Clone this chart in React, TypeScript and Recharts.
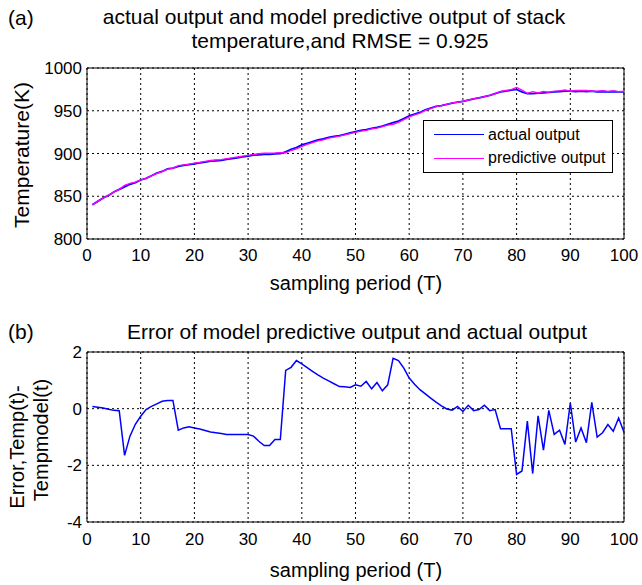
import React from "react";
import {
  CartesianGrid,
  Line,
  LineChart,
  ReferenceArea,
  XAxis,
  YAxis
} from "recharts";

// sampling period 1..100
const actualOutput = [
  840, 844, 848, 851, 855, 858, 861, 864, 866, 869,
  871, 874, 877, 879, 882, 883, 885, 886, 887, 888,
  889, 890, 891, 891.5, 892, 893, 894, 895, 896, 897,
  898, 898.5, 899, 899, 899.5, 900, 902, 905, 907, 910,
  912, 914, 916, 917, 919, 920, 921, 922.5, 924, 925.5,
  927, 928, 929.5, 930.5, 932, 934, 936, 938, 941, 944,
  946, 948, 951, 953, 955, 956, 957.5, 959, 960, 961,
  962.5, 964, 965, 966.5, 968, 970, 972, 973, 974, 975,
  972, 970, 970, 970.5, 971, 971.5, 972, 972.5, 973, 973,
  972.5, 973, 972.5, 973, 972, 972.5, 972, 972.5, 972, 972
];

const predictiveOutput = [
  839.9, 844.0, 848.0, 851.0, 855.1, 858.1, 862.7, 865.0, 866.6, 869.3,
  871.0, 873.9, 876.8, 878.7, 881.7, 882.7, 885.8, 886.7, 887.6, 888.7,
  889.7, 890.8, 891.8, 892.4, 892.9, 893.9, 894.9, 895.9, 896.9, 897.9,
  899.0, 899.7, 900.3, 900.3, 900.6, 901.1, 900.7, 903.5, 905.3, 908.4,
  910.6, 912.7, 914.8, 915.9, 918.0, 919.1, 920.2, 921.7, 923.3, 924.7,
  926.2, 927.0, 928.8, 929.6, 931.4, 933.2, 934.2, 936.3, 939.6, 942.9,
  945.1, 947.3, 950.5, 952.6, 954.8, 955.9, 957.5, 959.1, 959.9, 961.1,
  962.4, 964.1, 965.0, 966.4, 968.1, 970.0, 972.7, 973.7, 974.7, 977.3,
  974.2, 970.4, 972.3, 970.8, 972.5, 971.6, 972.9, 973.3, 974.3, 972.8,
  973.7, 973.7, 973.7, 972.8, 973.0, 973.4, 972.6, 973.3, 972.3, 972.8
];

const errorValues = [
  0.08, 0.05, 0.02, -0.02, -0.06, -0.07, -1.65, -0.97, -0.55, -0.27,
  -0.03, 0.08, 0.17, 0.26, 0.29, 0.29, -0.76, -0.68, -0.64, -0.68,
  -0.72, -0.77, -0.82, -0.85, -0.88, -0.91, -0.91, -0.91, -0.91, -0.91,
  -0.97, -1.15, -1.3, -1.3, -1.09, -1.09, 1.35, 1.46, 1.7, 1.58,
  1.45, 1.32, 1.19, 1.08, 0.98, 0.88, 0.78, 0.77, 0.75, 0.84,
  0.79, 0.96, 0.7, 0.92, 0.63, 0.84, 1.78, 1.7, 1.43, 1.08,
  0.86, 0.67, 0.52, 0.37, 0.23, 0.1, -0.01, -0.05, 0.08, -0.1,
  0.12, -0.07, -0.03, 0.12, -0.07, -0.03, -0.71, -0.71, -0.71, -2.32,
  -2.2, -0.44, -2.29, -0.25, -1.46, -0.06, -0.91, -0.76, -1.26, 0.2,
  -1.18, -0.68, -1.2, 0.22, -1.0, -0.85, -0.56, -0.8, -0.33, -0.83
];

const xTicks = [0, 10, 20, 30, 40, 50, 60, 70, 80, 90, 100];
const tempTicks = [800, 850, 900, 950, 1000];
const errorTicks = [-4, -2, 0, 2];

const FONT = "'Liberation Sans', Arial, Helvetica, sans-serif";
const tickStyle = { fill: "#000", fontSize: 17, fontFamily: FONT };

const topData = actualOutput.map((v, i) => ({
  t: i + 1,
  actual: v,
  predictive: predictiveOutput[i]
}));
const errorData = errorValues.map((v, i) => ({ t: i + 1, err: v }));

const text = (style: React.CSSProperties): React.CSSProperties => ({
  position: "absolute",
  fontFamily: FONT,
  color: "#000",
  whiteSpace: "nowrap",
  lineHeight: 1,
  ...style
});

// small inward tick marks on all four sides, matlab style
function innerTicks(yDomain: number[], yTicks: number[]) {
  const common = {
    mirror: true,
    tick: false as const,
    tickSize: 5,
    axisLine: false,
    tickLine: { stroke: "#000" },
    interval: 0 as const
  };
  return [
    <XAxis key="xb" xAxisId="xb" orientation="bottom" type="number" domain={[0, 100]} ticks={xTicks} {...common} />,
    <XAxis key="xt" xAxisId="xt" orientation="top" type="number" domain={[0, 100]} ticks={xTicks} {...common} />,
    <YAxis key="yl" yAxisId="yl" orientation="left" type="number" domain={yDomain} ticks={yTicks} {...common} />,
    <YAxis key="yr" yAxisId="yr" orientation="right" type="number" domain={yDomain} ticks={yTicks} {...common} />
  ];
}

export default function App() {
  return (
    <div
      style={{
        position: "absolute",
        left: 0,
        top: 0,
        width: 642,
        height: 585,
        background: "#fff",
        overflow: "hidden"
      }}
    >
      {/* (a) */}
      <div style={text({ left: 8, top: 7, fontSize: 21 })}>(a)</div>
      <div style={text({ left: 334, top: 6, fontSize: 21, transform: "translateX(-50%)" })}>
        actual output and model predictive output of stack
      </div>
      <div style={text({ left: 340, top: 30, fontSize: 21, transform: "translateX(-50%)" })}>
        temperature,and RMSE = 0.925
      </div>

      <div style={{ position: "absolute", left: 0, top: 0 }}>
        <LineChart width={642} height={300} data={topData} margin={{ top: 68, right: 18, left: 0, bottom: 0 }}>
          <CartesianGrid stroke="#000" strokeDasharray="2 3" />
          <XAxis
            dataKey="t"
            type="number"
            domain={[0, 100]}
            ticks={xTicks}
            height={61}
            tickLine={false}
            axisLine={false}
            tickSize={0}
            tickMargin={10}
            tick={tickStyle}
            interval={0}
          />
          <YAxis
            type="number"
            domain={[800, 1000]}
            ticks={tempTicks}
            width={87}
            tickLine={false}
            axisLine={false}
            tickSize={0}
            tickMargin={5}
            tick={tickStyle}
            interval={0}
          />
          {innerTicks([800, 1000], tempTicks)}
          <ReferenceArea x1={0} x2={100} y1={800} y2={1000} fill="none" stroke="#000" strokeWidth={1} ifOverflow="visible" />
          <Line dataKey="actual" stroke="#0000ff" strokeWidth={1.8} dot={false} isAnimationActive={false} />
          <Line dataKey="predictive" stroke="#ff00ff" strokeWidth={1.3} dot={false} isAnimationActive={false} />
        </LineChart>
      </div>

      <div style={text({ left: 21, top: 155, fontSize: 21, transform: "translate(-50%, -50%) rotate(-90deg)" })}>
        Temperature(K)
      </div>
      <div style={text({ left: 356, top: 283, fontSize: 20, transform: "translate(-50%, -50%)" })}>
        sampling period (T)
      </div>

      {/* legend */}
      <div
        style={{
          position: "absolute",
          left: 423,
          top: 120,
          width: 188,
          height: 51,
          border: "1px solid #000",
          background: "#fff"
        }}
      >
        <div style={{ position: "absolute", left: 10, top: 13, width: 50, height: 0, borderTop: "1.5px solid #0000ff" }} />
        <div style={text({ left: 64, top: 6, fontSize: 16 })}>actual output</div>
        <div style={{ position: "absolute", left: 10, top: 37, width: 50, height: 0, borderTop: "1.5px solid #ff00ff" }} />
        <div style={text({ left: 64, top: 29, fontSize: 16 })}>predictive output</div>
      </div>

      {/* (b) */}
      <div style={text({ left: 8, top: 321, fontSize: 21 })}>(b)</div>
      <div style={text({ left: 357, top: 321, fontSize: 21, transform: "translateX(-50%)" })}>
        Error of model predictive output and actual output
      </div>

      <div style={{ position: "absolute", left: 0, top: 300 }}>
        <LineChart width={642} height={285} data={errorData} margin={{ top: 52, right: 18, left: 0, bottom: 0 }}>
          <CartesianGrid stroke="#000" strokeDasharray="2 3" />
          <XAxis
            dataKey="t"
            type="number"
            domain={[0, 100]}
            ticks={xTicks}
            height={63}
            tickLine={false}
            axisLine={false}
            tickSize={0}
            tickMargin={11}
            tick={tickStyle}
            interval={0}
          />
          <YAxis
            type="number"
            domain={[-4, 2]}
            ticks={errorTicks}
            width={87}
            tickLine={false}
            axisLine={false}
            tickSize={0}
            tickMargin={5}
            tick={tickStyle}
            interval={0}
          />
          {innerTicks([-4, 2], errorTicks)}
          <ReferenceArea x1={0} x2={100} y1={-4} y2={2} fill="none" stroke="#000" strokeWidth={1} ifOverflow="visible" />
          <Line dataKey="err" stroke="#0000ff" strokeWidth={1.5} dot={false} isAnimationActive={false} />
        </LineChart>
      </div>

      <div style={text({ left: 17, top: 447, fontSize: 20, transform: "translate(-50%, -50%) rotate(-90deg)" })}>
        Error,Temp(t)-
      </div>
      <div style={text({ left: 41, top: 440, fontSize: 20, transform: "translate(-50%, -50%) rotate(-90deg)" })}>
        Tempmodel(t)
      </div>
      <div style={text({ left: 356, top: 570, fontSize: 20, transform: "translate(-50%, -50%)" })}>
        sampling period (T)
      </div>
    </div>
  );
}
